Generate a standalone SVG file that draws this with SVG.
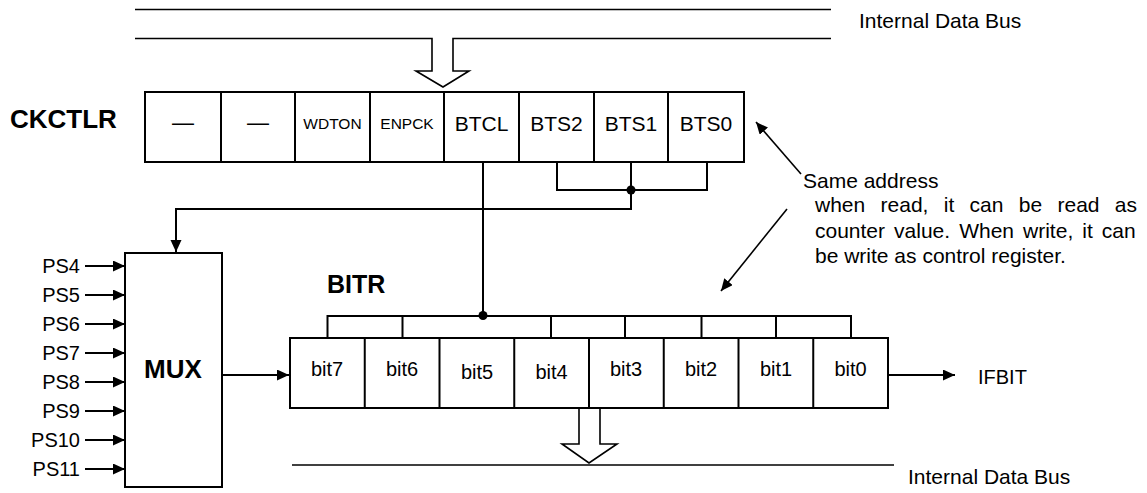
<svg xmlns="http://www.w3.org/2000/svg" width="1147" height="493" viewBox="0 0 1147 493">
<style>
text{font-family:"Liberation Sans",Arial,sans-serif;fill:#000}
.b{font-weight:bold}
.box{fill:#fff;stroke:#000;stroke-width:2}
.ln{fill:none;stroke:#000;stroke-width:2}
.bus{fill:none;stroke:#000;stroke-width:1.6}
.c21{font-size:21px;text-anchor:middle}
.c15{font-size:15.5px;text-anchor:middle}
.c20{font-size:20px;text-anchor:middle}
.ps{font-size:20px;text-anchor:end}
</style>
<defs>
<marker id="ah" markerUnits="userSpaceOnUse" markerWidth="13" markerHeight="12" refX="12" refY="5.5" orient="auto">
<path d="M0,0 L12,5.5 L0,11 z" fill="#000"/>
</marker>
</defs>
<rect width="1147" height="493" fill="#fff"/>

<g id="top-bus">
<path class="bus" d="M135,9.5 H831"/>
<path class="bus" d="M135,38.5 H432 V71 H416 L443,87 L469,71 H453 V38.5 H831"/>
<text x="859" y="28" font-size="21">Internal Data Bus</text>
</g>

<g id="ckctlr">
<text class="b" x="10" y="128" font-size="26">CKCTLR</text>
<rect class="box" x="145" y="92" width="599" height="70"/>
<path class="ln" d="M221,92 V162 M295,92 V162 M370,92 V162 M444,92 V162 M519,92 V162 M594,92 V162 M668,92 V162"/>
<text x="183" y="130" font-size="22" text-anchor="middle">—</text>
<text x="258" y="130" font-size="22" text-anchor="middle">—</text>
<text class="c15" x="332.5" y="129">WDTON</text>
<text class="c15" x="407" y="129">ENPCK</text>
<text class="c21" x="481.5" y="131">BTCL</text>
<text class="c21" x="556.5" y="131">BTS2</text>
<text class="c21" x="631" y="131">BTS1</text>
<text class="c21" x="706" y="131">BTS0</text>
</g>

<g id="mux">
<rect class="box" x="125" y="253" width="97" height="234"/>
<text class="b" x="173" y="378" font-size="26" text-anchor="middle">MUX</text>
<text class="ps" x="80" y="273">PS4</text>
<text class="ps" x="80" y="302">PS5</text>
<text class="ps" x="80" y="331">PS6</text>
<text class="ps" x="80" y="360">PS7</text>
<text class="ps" x="80" y="389">PS8</text>
<text class="ps" x="80" y="418">PS9</text>
<text class="ps" x="80" y="447">PS10</text>
<text class="ps" x="80" y="476">PS11</text>
</g>

<g id="bitr">
<text class="b" x="327" y="293" font-size="25">BITR</text>
<rect class="box" x="290" y="338" width="598" height="70"/>
<path class="ln" d="M364.75,338 V408 M439.5,338 V408 M514.25,338 V408 M589,338 V408 M663.75,338 V408 M738.5,338 V408 M813.25,338 V408"/>
<text class="c20" x="327" y="376">bit7</text>
<text class="c20" x="402" y="376">bit6</text>
<text class="c20" x="477" y="379">bit5</text>
<text class="c20" x="551.5" y="379">bit4</text>
<text class="c20" x="626" y="376">bit3</text>
<text class="c20" x="701" y="376">bit2</text>
<text class="c20" x="776" y="376">bit1</text>
<text class="c20" x="850.5" y="376">bit0</text>
</g>

<g id="ifbit">
<text x="978" y="384" font-size="20">IFBIT</text>
</g>

<g id="bottom-bus">
<path class="bus" d="M292,465 H894"/>
<path class="bus" d="M579,407 V444 H562 L589,463 L617,444 H600 V407"/>
<text x="908" y="484" font-size="21">Internal Data Bus</text>
</g>

<g id="note">
<text x="803" y="188" font-size="21">Same address</text>
<text x="815" y="212" font-size="21" word-spacing="9.5">when read, it can be read as</text>
<text x="815" y="238" font-size="21" word-spacing="3.2">counter value. When write, it can</text>
<text x="815" y="263" font-size="21">be write as control register.</text>
</g>

<g id="connectors">
<path class="ln" d="M557,162 V190 H707 V162 M631,162 V209 H176 V252" marker-end="url(#ah)"/>
<circle cx="631" cy="190" r="4.5" fill="#000"/>
<path class="ln" d="M483,162 V316"/>
<path class="ln" d="M327.5,338 V316 H851 V338 M402.5,316 V338 M551,316 V338 M625,316 V338 M701.5,316 V338 M776,316 V338"/>
<circle cx="483" cy="315.5" r="4.5" fill="#000"/>
<path class="ln" d="M222,375 H289" marker-end="url(#ah)"/>
<path class="ln" d="M888,375 H955" marker-end="url(#ah)"/>
<path class="ln" d="M85,266 H125" marker-end="url(#ah)"/>
<path class="ln" d="M85,295 H125" marker-end="url(#ah)"/>
<path class="ln" d="M85,324 H125" marker-end="url(#ah)"/>
<path class="ln" d="M85,353 H125" marker-end="url(#ah)"/>
<path class="ln" d="M85,382 H125" marker-end="url(#ah)"/>
<path class="ln" d="M85,411 H125" marker-end="url(#ah)"/>
<path class="ln" d="M85,440 H125" marker-end="url(#ah)"/>
<path class="ln" d="M85,469 H125" marker-end="url(#ah)"/>
<path class="ln" d="M801,174 L756,122" marker-end="url(#ah)" style="stroke-width:1.6"/>
<path class="ln" d="M787,209 L721,291" marker-end="url(#ah)" style="stroke-width:1.6"/>
</g>
</svg>
